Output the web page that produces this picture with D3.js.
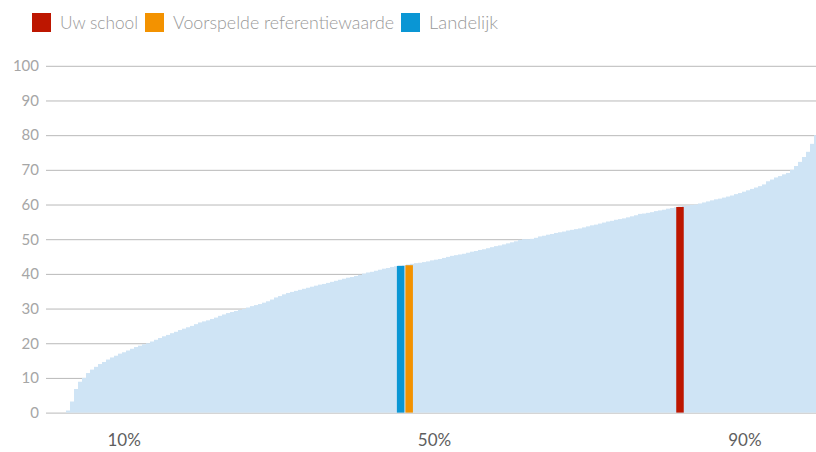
<!DOCTYPE html>
<html>
<head>
<meta charset="utf-8">
<script src="https://cdn.jsdelivr.net/npm/d3@7"></script>
<style>
  html, body { margin: 0; padding: 0; background: #fff; overflow: hidden; }
  svg { display: block; }
</style>
</head>
<body>
<svg id="chart" width="816" height="452"></svg>
<script>
// ---- data ----
// sorted scores of all schools (one bar per school group)
const schoolScores = [
  0, 0, 0, 0, 0, 0.6, 3.2, 6.8, 8.9, 10,
  11.4, 12.4, 13.2, 14, 14.6, 15.3, 15.9, 16.4, 17, 17.4,
  17.9, 18.4, 18.9, 19.3, 19.7, 20, 20.5, 21, 21.5, 22,
  22.4, 22.9, 23.3, 23.8, 24.2, 24.6, 25, 25.5, 26, 26.3,
  26.6, 27, 27.4, 27.9, 28.3, 28.7, 29, 29.3, 29.6, 29.9,
  30.3, 30.7, 31, 31.3, 31.7, 32.1, 32.6, 33.2, 33.6, 34.1,
  34.5, 34.8, 35.1, 35.4, 35.7, 36, 36.3, 36.6, 36.9, 37.1,
  37.4, 37.7, 38, 38.3, 38.6, 38.9, 39.1, 39.4, 39.7, 40.1,
  40.4, 40.6, 40.9, 41.2, 41.5, 41.7, 42, 42.2, 42.4, 42.5,
  42.7, 42.9, 43.1, 43.2, 43.4, 43.6, 43.9, 44.1, 44.3, 44.6,
  44.9, 45.2, 45.4, 45.6, 45.8, 46.1, 46.4, 46.6, 46.9, 47.1,
  47.4, 47.7, 48, 48.2, 48.5, 48.8, 49.1, 49.4, 49.8, 50,
  50, 50.1, 50.4, 50.8, 51, 51.3, 51.5, 51.8, 52, 52.2,
  52.5, 52.7, 52.9, 53.1, 53.4, 53.7, 54, 54.2, 54.5, 54.8,
  55.1, 55.3, 55.6, 55.8, 56, 56.3, 56.6, 56.9, 57.3, 57.4,
  57.6, 57.8, 58.1, 58.3, 58.5, 58.8, 59, 59.2, 59.4, 59.6,
  59.7, 59.9, 60, 60.3, 60.6, 60.9, 61.2, 61.5, 61.7, 62,
  62.3, 62.6, 63, 63.3, 63.7, 64.1, 64.5, 64.9, 65.3, 65.8,
  66.7, 67.2, 67.8, 68.2, 68.7, 69.1, 70, 71.1, 72.3, 73.7,
  75.2, 77.5, 80, 83
];

const legendLabels = ["Uw school", "Voorspelde referentiewaarde", "Landelijk"];
const legendColors = ["#bd1600", "#f39200", "#0a96d4"];

// highlighted bars: percentile position and value
const highlightNames = ["Uw school", "Voorspelde referentiewaarde", "Landelijk"];
const highlightPercentiles = [81.7, 46.8, 45.7];
const highlightValues = [59.3, 42.5, 42.3];

const yTicks = [0, 10, 20, 30, 40, 50, 60, 70, 80, 90, 100];
const percentileTicks = [10, 50, 90];
const percentileLabels = ["10%", "50%", "90%"];

// ---- drawing ----
const svg = d3.select("#chart");
const plotLeft = 46, plotRight = 822;

const x = d3.scaleBand()
  .domain(d3.range(schoolScores.length))
  .range([plotLeft, plotRight])
  .paddingInner(0).paddingOuter(0);

const pct = d3.scaleLinear().domain([0, 100]).range([plotLeft, plotRight]);

const y = d3.scaleLinear().domain([0, 100]).range([412.6, 65.8]);

// gridlines + y tick labels
const yAxis = d3.axisLeft(y)
  .tickValues(yTicks)
  .tickSize(-(plotRight - plotLeft))
  .tickPadding(7)
  .tickFormat(d3.format("d"));

const gy = svg.append("g")
  .attr("transform", `translate(${plotLeft},0)`)
  .call(yAxis);
gy.select(".domain").remove();
gy.selectAll(".tick line").attr("stroke", "#b9b9b9").attr("stroke-width", 1);
gy.selectAll(".tick text")
  .attr("fill", "#a6a6a6")
  .style("font-family", "Lato, 'Open Sans', sans-serif")
  .style("font-size", "15px")
  .style("font-weight", 400);

// distribution bars
svg.append("g")
  .selectAll("rect")
  .data(schoolScores)
  .join("rect")
  .attr("x", (d, i) => x(i))
  .attr("width", x.bandwidth() + 0.3)
  .attr("y", d => y(d))
  .attr("height", d => y(0) - y(d))
  .attr("fill", "#cfe4f5");

// highlighted bars
const hlWidth = 7.5;
svg.append("g")
  .selectAll("rect")
  .data(highlightNames)
  .join("rect")
  .attr("x", (d, i) => pct(highlightPercentiles[i]) - hlWidth / 2)
  .attr("width", hlWidth)
  .attr("y", (d, i) => y(highlightValues[i]))
  .attr("height", (d, i) => y(0) - y(highlightValues[i]))
  .attr("fill", d => legendColors[legendLabels.indexOf(d)]);

// percentile labels
const xAxis = d3.axisBottom(pct)
  .tickValues(percentileTicks)
  .tickSize(0)
  .tickPadding(0)
  .tickFormat((d, i) => percentileLabels[i]);
const gx = svg.append("g")
  .attr("transform", "translate(0,442)")
  .call(xAxis);
gx.select(".domain").remove();
gx.selectAll(".tick text")
  .attr("fill", "#5e5e5e")
  .attr("dy", "0")
  .attr("dominant-baseline", "middle")
  .style("font-family", "Lato, 'Open Sans', sans-serif")
  .style("font-size", "17px");

// legend
const legendX = [32, 145, 401];
const legendTextW = [78, 221, 69];
const lg = svg.append("g");
legendLabels.forEach((lab, i) => {
  lg.append("rect")
    .attr("x", legendX[i]).attr("y", 13)
    .attr("width", 19).attr("height", 19)
    .attr("fill", legendColors[i]);
  lg.append("text")
    .attr("x", legendX[i] + 28).attr("y", 29)
    .attr("fill", "#999")
    .attr("textLength", legendTextW[i])
    .attr("lengthAdjust", "spacingAndGlyphs")
    .style("font-family", "Lato, 'Open Sans', sans-serif")
    .style("font-size", "18px")
    .style("font-weight", 300)
    .text(lab);
});
</script>
</body>
</html>
